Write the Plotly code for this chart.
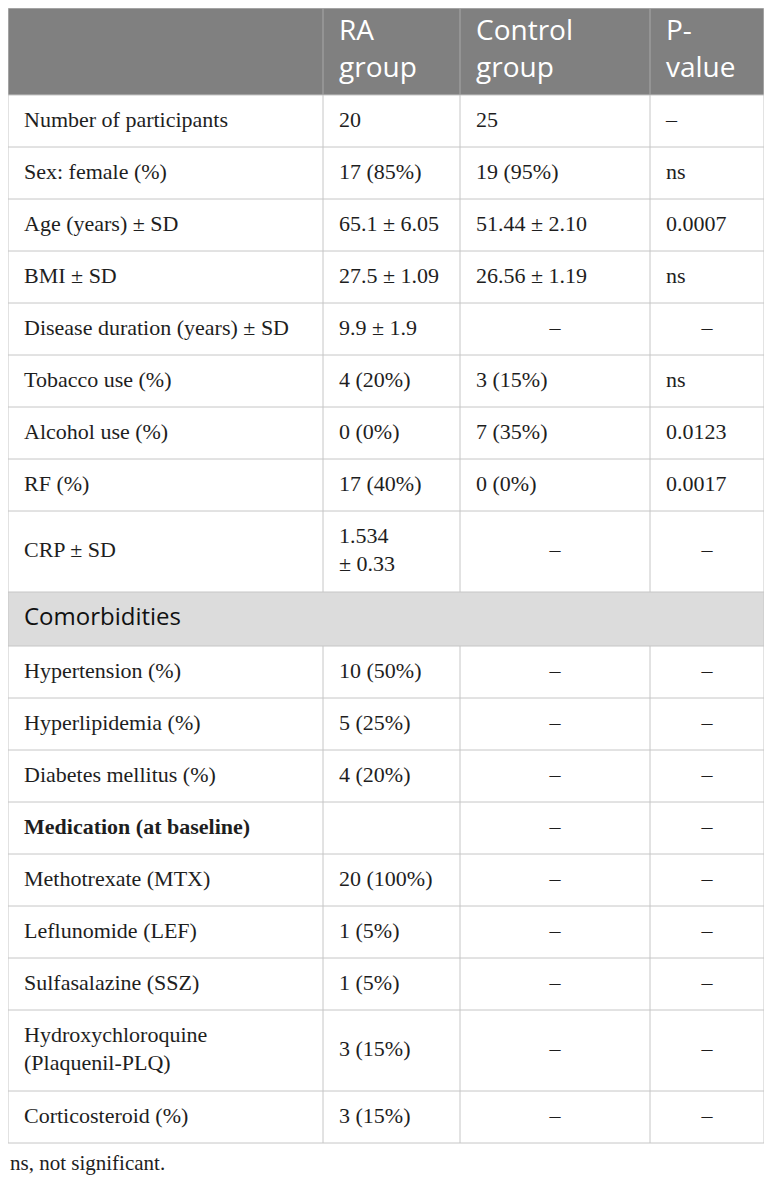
import plotly.graph_objects as go

# table content
header = ["", "RA<br>group", "Control<br>group", "P-<br>value"]

characteristics = [
    "Number of participants", "Sex: female (%)", "Age (years) ± SD", "BMI ± SD",
    "Disease duration (years) ± SD", "Tobacco use (%)", "Alcohol use (%)", "RF (%)",
    "CRP ± SD", "Comorbidities", "Hypertension (%)", "Hyperlipidemia (%)",
    "Diabetes mellitus (%)", "Medication (at baseline)", "Methotrexate (MTX)",
    "Leflunomide (LEF)", "Sulfasalazine (SSZ)", "Hydroxychloroquine<br>(Plaquenil-PLQ)",
    "Corticosteroid (%)",
]
ra_group = [
    "20", "17 (85%)", "65.1 ± 6.05", "27.5 ± 1.09", "9.9 ± 1.9", "4 (20%)", "0 (0%)",
    "17 (40%)", "1.534<br>± 0.33", "", "10 (50%)", "5 (25%)", "4 (20%)", "",
    "20 (100%)", "1 (5%)", "1 (5%)", "3 (15%)", "3 (15%)",
]
control_group = [
    "25", "19 (95%)", "51.44 ± 2.10", "26.56 ± 1.19", "–", "3 (15%)", "7 (35%)",
    "0 (0%)", "–", "", "–", "–", "–", "–", "–", "–", "–", "–", "–",
]
p_value = [
    "–", "ns", "0.0007", "ns", "–", "ns", "0.0123", "0.0017", "–", "", "–", "–",
    "–", "–", "–", "–", "–", "–", "–",
]

section_rows = ["Comorbidities"]
bold_rows = ["Medication (at baseline)"]
dash_left_rows = ["Number of participants"]   # the one dash that sits left in its cell
footnote = "ns, not significant."

# page geometry: axis units are page pixels (the page body has an 8px margin)
W, H = 772, 1185
body_margin = 8
col_edges = [8, 323, 460, 650, 764]
top = 8
header_h = 87
row_h = 52
line_gap = 29
section_h = 54
pad = 16

HEADER_FILL = "#808080"
SECTION_FILL = "#dcdcdc"
GRID = "#c6c6c6"
HEADER_GRID = "#a8a8a8"
TEXT = "#1e1e1e"
SERIF = "Liberation Serif"
SANS = "Open Sans"

columns = [characteristics, ra_group, control_group, p_value]

# row boundaries
bounds = [top, top + header_h]
for i, lab in enumerate(characteristics):
    if lab in section_rows:
        h = section_h
    else:
        n = max(c[i].count("<br>") for c in columns) + 1
        h = row_h + line_gap * (n - 1)
    bounds.append(bounds[-1] + h)

xs, ys, texts, positions, fams, sizes, colors = [], [], [], [], [], [], []


def add_cell(txt, col, y0, y1, family, size, color, centered=False):
    if centered:
        xs.append((col_edges[col] + col_edges[col + 1]) / 2)
        positions.append("middle center")
    else:
        xs.append(col_edges[col] + pad)
        positions.append("middle right")
    ys.append((y0 + y1) / 2)
    texts.append(txt)
    fams.append(family)
    sizes.append(size)
    colors.append(color)


for c, h in enumerate(header):
    if h:
        add_cell(h, c, bounds[0], bounds[1], SANS, 28, "white")

for i, lab in enumerate(characteristics):
    y0, y1 = bounds[i + 1], bounds[i + 2]
    if lab in section_rows:
        add_cell(lab, 0, y0, y1, SANS, 24, "#111111")
        continue
    for c, col in enumerate(columns):
        v = col[i]
        if not v:
            continue
        if c == 0 and lab in bold_rows:
            v = "<b>" + v + "</b>"
        centered = v == "–" and lab not in dash_left_rows
        add_cell(v, c, y0, y1, SERIF, 22, TEXT, centered)

fig = go.Figure(go.Scatter(
    x=xs, y=ys, text=texts, mode="text", textposition=positions,
    textfont=dict(family=fams, size=sizes, color=colors),
    hoverinfo="skip", showlegend=False,
))

shapes = []
# fills
shapes.append(dict(type="rect", xref="x", yref="y", x0=col_edges[0], x1=col_edges[-1],
                   y0=bounds[0], y1=bounds[1], fillcolor=HEADER_FILL, line_width=0, layer="below"))
for i, lab in enumerate(characteristics):
    if lab in section_rows:
        shapes.append(dict(type="rect", xref="x", yref="y", x0=col_edges[0], x1=col_edges[-1],
                           y0=bounds[i + 1], y1=bounds[i + 2], fillcolor=SECTION_FILL,
                           line_width=0, layer="below"))

# horizontal rules
for b in bounds:
    shapes.append(dict(type="line", xref="x", yref="y", x0=col_edges[0], x1=col_edges[-1],
                       y0=b, y1=b, line=dict(color=GRID, width=1)))

# vertical rules (outer ones run the whole height, inner ones skip section rows)
for e in (col_edges[0], col_edges[-1]):
    shapes.append(dict(type="line", xref="x", yref="y", x0=e, x1=e, y0=bounds[0], y1=bounds[-1],
                       line=dict(color=GRID, width=1)))
row_names = [""] + characteristics
for r in range(len(row_names)):
    if row_names[r] in section_rows:
        continue
    for e in col_edges[1:-1]:
        shapes.append(dict(type="line", xref="x", yref="y", x0=e, x1=e,
                           y0=bounds[r], y1=bounds[r + 1],
                           line=dict(color=HEADER_GRID if r == 0 else GRID, width=1)))

fig.update_layout(
    width=W - 2 * body_margin + 1, height=H - 2 * body_margin,
    margin=dict(l=0, r=0, t=0, b=0),
    paper_bgcolor="white", plot_bgcolor="white",
    xaxis=dict(range=[body_margin, W - body_margin + 1], visible=False, fixedrange=True),
    yaxis=dict(range=[H - body_margin, body_margin], visible=False, fixedrange=True),
    shapes=shapes,
    annotations=[dict(text=footnote, xref="x", yref="y", x=col_edges[0], y=bounds[-1] + 20,
                      xanchor="left", yanchor="middle", showarrow=False,
                      font=dict(family=SERIF, size=21, color=TEXT))],
)

fig.write_html("out.html")
